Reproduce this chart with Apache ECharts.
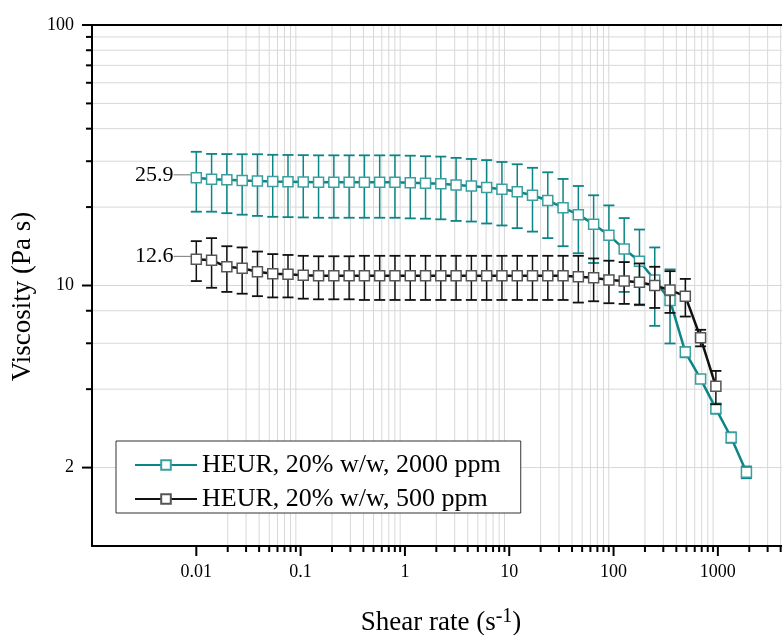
<!DOCTYPE html>
<html><head><meta charset="utf-8">
<script src="https://cdn.jsdelivr.net/npm/echarts@6/dist/echarts.min.js"></script>
<style>html,body{margin:0;padding:0;background:#fff}#c{width:782px;height:635px}</style>
</head><body><div id="c"></div>
<script>
// ---- data ----
const shearRate = [0.01, 0.01401, 0.01963, 0.02751, 0.03855, 0.05402, 0.07568, 0.1060, 0.1486, 0.2082,
  0.2917, 0.4088, 0.5728, 0.8026, 1.125, 1.576, 2.208, 3.094, 4.335, 6.075,
  8.511, 11.93, 16.71, 23.42, 32.81, 45.97, 64.42, 90.27, 126.5, 177.2,
  248.3, 347.9, 487.5, 683.1, 957.2, 1341, 1879];
const visc2000 = [25.9, 25.6, 25.45, 25.3, 25.2, 25.05, 25.0, 24.95, 24.9, 24.9,
  24.9, 24.9, 24.9, 24.9, 24.8, 24.7, 24.6, 24.3, 24.1, 23.8,
  23.4, 22.9, 22.2, 21.2, 19.9, 18.7, 17.2, 15.6, 13.8, 12.4,
  10.5, 8.76, 5.55, 4.38, 3.37, 2.61, 1.92];
const err2000 = [6.7, 6.4, 6.5, 6.6, 6.7, 6.7, 6.7, 6.7, 6.7, 6.7,
  6.7, 6.7, 6.7, 6.7, 6.7, 6.65, 6.65, 6.6, 6.5, 6.5,
  6.4, 6.3, 6.1, 6.0, 5.75, 5.4, 5.0, 4.7, 4.35, 4.0,
  3.5, 2.77, 0.25, 0.15, 0.15, 0.12, 0.1];
const visc500 = [12.6, 12.5, 11.8, 11.65, 11.3, 11.1, 11.05, 10.95, 10.9, 10.9,
  10.9, 10.9, 10.9, 10.9, 10.9, 10.9, 10.9, 10.9, 10.9, 10.9,
  10.9, 10.9, 10.9, 10.9, 10.9, 10.8, 10.7, 10.5, 10.4, 10.3,
  10.0, 9.6, 9.1, 6.3, 4.1];
const err500 = [2.2, 2.7, 2.35, 2.35, 2.2, 2.1, 2.05, 2.05, 2.05, 2.05,
  2.05, 2.1, 2.1, 2.1, 2.1, 2.1, 2.1, 2.1, 2.1, 2.1,
  2.1, 2.1, 2.1, 2.1, 2.1, 2.2, 2.0, 1.95, 1.9, 1.85,
  1.8, 1.75, 1.5, 0.46, 0.6];
const seriesNames = ['HEUR, 20% w/w, 2000 ppm', 'HEUR, 20% w/w, 500 ppm'];
const xMajorTicks = [0.01, 0.1, 1, 10, 100, 1000];
const xMinorTicks = [0.02, 0.03, 0.04, 0.05, 0.06, 0.07, 0.08, 0.09,
  0.2, 0.3, 0.4, 0.5, 0.6, 0.7, 0.8, 0.9,
  2, 3, 4, 5, 6, 7, 8, 9,
  20, 30, 40, 50, 60, 70, 80, 90,
  200, 300, 400, 500, 600, 700, 800, 900,
  2000, 3000, 4000];
const yLabelTicks = [2, 10, 100];
const yMinorTicks = [90, 80, 70, 60, 50, 40, 30, 20, 8, 6, 4];
const yGridValues = [90, 80, 70, 60, 50, 40, 30, 20, 10, 8, 6, 4, 2];
const xRange = [0.001, 4120];
const yRange = [1, 100];

// ---- styles ----
const FONT = 'Liberation Serif';
const TEAL = '#0b8585';
const TEAL_MARK = '#3a9f9f';
const BLACK = '#111111';
const BLACK_MARK = '#555555';
const GRID = '#d8d8d8';

const chart = echarts.init(document.getElementById('c'));

function vLine(x, y0, y1, stroke, w) {
  return {type: 'line', shape: {x1: x, y1: y0, x2: x, y2: y1}, style: {stroke: stroke, lineWidth: w}};
}
function hLine(y, x0, x1, stroke, w) {
  return {type: 'line', shape: {x1: x0, y1: y, x2: x1, y2: y}, style: {stroke: stroke, lineWidth: w}};
}

const gridX = {
  type: 'custom', silent: true, z: 0, clip: false,
  data: xMinorTicks.map(v => [v, yRange[0]]),
  renderItem: (p, api) => {
    const a = api.coord([api.value(0), yRange[0]]);
    const b = api.coord([api.value(0), yRange[1]]);
    return vLine(a[0], a[1], b[1], GRID, 1);
  }
};
const gridY = {
  type: 'custom', silent: true, z: 0, clip: false,
  data: yGridValues.map(v => [xRange[0], v]),
  renderItem: (p, api) => {
    const a = api.coord([xRange[0], api.value(1)]);
    const b = api.coord([xRange[1], api.value(1)]);
    return hLine(a[1], a[0], b[0], GRID, 1);
  }
};
const topBorder = {
  type: 'custom', silent: true, z: 10, clip: false,
  data: [[xRange[0], yRange[1]]],
  renderItem: (p, api) => {
    const a = api.coord([xRange[0], yRange[1]]);
    const b = api.coord([xRange[1], yRange[1]]);
    return hLine(a[1], a[0] - 1, b[0], '#000', 2);
  }
};
const ticksX = {
  type: 'custom', silent: true, z: 10, clip: false,
  data: xMajorTicks.map(v => [v, yRange[0], 10]).concat(xMinorTicks.map(v => [v, yRange[0], 6])),
  renderItem: (p, api) => {
    const a = api.coord([api.value(0), yRange[0]]);
    return vLine(a[0], a[1], a[1] + api.value(2), '#000', 2);
  }
};
const ticksY = {
  type: 'custom', silent: true, z: 10, clip: false,
  data: yLabelTicks.map(v => [xRange[0], v, 10]).concat(yMinorTicks.map(v => [xRange[0], v, 6])),
  renderItem: (p, api) => {
    const a = api.coord([xRange[0], api.value(1)]);
    return hLine(a[1], a[0], a[0] - api.value(2), '#000', 2);
  }
};

function errorSeries(vals, errs, color, z) {
  return {
    type: 'custom', silent: true, z: z, clip: false,
    data: vals.map((v, i) => [shearRate[i], v - errs[i], v + errs[i]]),
    encode: {x: 0, y: [1, 2]},
    renderItem: (p, api) => {
      const lo = api.coord([api.value(0), api.value(1)]);
      const hi = api.coord([api.value(0), api.value(2)]);
      const hw = 5.5;
      return {type: 'group', children: [
        vLine(lo[0], lo[1], hi[1], color, 1.5),
        hLine(lo[1], lo[0] - hw, lo[0] + hw, color, 1.8),
        hLine(hi[1], hi[0] - hw, hi[0] + hw, color, 1.8)
      ]};
    }
  };
}

function lineSeries(name, vals, lineColor, markColor, z) {
  const data = vals.map((v, i) => [shearRate[i], v]);
  data[0] = {value: data[0], label: {show: true}};
  return {
    name: name, type: 'line', z: z, symbol: 'rect', symbolSize: 10, showAllSymbol: true,
    lineStyle: {color: lineColor, width: 2.5},
    itemStyle: {color: '#fff', borderColor: markColor, borderWidth: 1.5},
    emphasis: {disabled: true},
    label: {show: false, position: 'left', distance: 5, formatter: p => String(p.value[1]),
      fontFamily: FONT, fontSize: 22, color: '#000'},
    labelLayout: {dx: -12, dy: -3},
    labelLine: {show: true, lineStyle: {color: '#555', width: 0.8}},
    data: data
  };
}

function isDecade(v) {
  const l = Math.log10(v);
  return Math.abs(l - Math.round(l)) < 1e-6;
}

chart.setOption({
  animation: false,
  backgroundColor: '#fff',
  grid: {left: 92, top: 25, width: 690, height: 521, outerBoundsMode: 'none', show: false},
  legend: {
    left: 116, top: 441, orient: 'vertical', itemWidth: 62, itemHeight: 12, itemGap: 8,
    padding: [11, 20, 1, 18], borderColor: '#333', borderWidth: 1, backgroundColor: '#fff',
    textStyle: {fontFamily: FONT, fontSize: 26, color: '#000'},
    data: seriesNames
  },
  xAxis: {
    type: 'log', logBase: 10, min: xRange[0], max: xRange[1],
    axisLine: {show: true, lineStyle: {color: '#000', width: 2}},
    axisTick: {show: false}, splitLine: {show: false}, minorTick: {show: false},
    axisLabel: {fontFamily: FONT, fontSize: 18, color: '#000', margin: 17,
      formatter: v => (v < 0.005 || !isDecade(v) ? '' : String(v))},
    name: '{a|Shear rate (s}{b|-1}{a|)}', nameLocation: 'middle', nameGap: 61,
    nameTextStyle: {padding: [0, 0, 0, 8],
      rich: {a: {fontFamily: FONT, fontSize: 27, color: '#000', lineHeight: 32},
             b: {fontFamily: FONT, fontSize: 20, color: '#000', verticalAlign: 'top', lineHeight: 18}}}
  },
  yAxis: {
    type: 'log', logBase: 10, min: yRange[0], max: yRange[1],
    axisLine: {show: true, lineStyle: {color: '#000', width: 2}},
    axisTick: {show: false}, splitLine: {show: false}, minorTick: {show: false},
    axisLabel: {fontFamily: FONT, fontSize: 18, color: '#000', margin: 18,
      customValues: yLabelTicks, formatter: v => String(Math.round(v))},
    name: 'Viscosity (Pa s)', nameLocation: 'middle', nameGap: 54,
    nameTextStyle: {fontFamily: FONT, fontSize: 27, color: '#000', padding: [0, 22, 0, 0]}
  },
  series: [
    gridX, gridY,
    errorSeries(visc2000, err2000, TEAL, 3),
    lineSeries(seriesNames[0], visc2000, TEAL, TEAL_MARK, 4),
    errorSeries(visc500, err500, BLACK, 5),
    lineSeries(seriesNames[1], visc500, BLACK, BLACK_MARK, 6),
    topBorder, ticksX, ticksY
  ]
});
</script></body></html>
